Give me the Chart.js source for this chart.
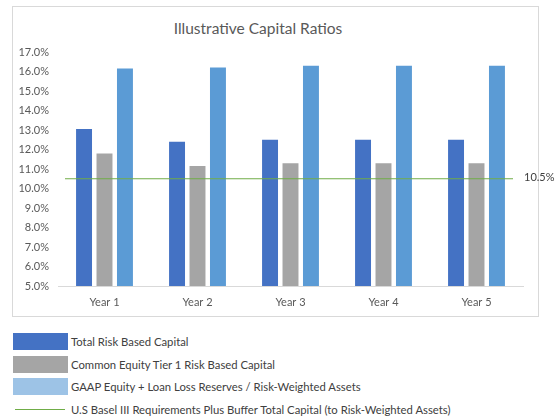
<!DOCTYPE html>
<html>
<head>
<meta charset="utf-8">
<script src="https://cdn.jsdelivr.net/npm/chart.js@4"></script>
<style>
  html, body { margin:0; padding:0; background:#fff; }
  body { width:555px; height:419px; position:relative; overflow:hidden; font-family: Lato, "Open Sans", sans-serif; }
  #frame { position:absolute; left:12px; top:6px; width:525px; height:309px; border:1px solid #d9d9d9; }
  #wrap { position:absolute; left:0; top:0; width:555px; height:316px; }
  #title { position:absolute; left:0; width:516px; top:19px; text-align:center; font-size:15.5px; color:#595959; }
  .leg { position:absolute; left:13px; height:17px; }
  .box { position:absolute; left:0; top:0; width:55px; height:17px; }
  .ln { position:absolute; left:2px; top:8px; width:50px; height:1px; background:#70ad47; }
  .txt { position:absolute; left:58px; top:0; line-height:17px; font-size:11.3px; color:#404040; white-space:nowrap; }
</style>
</head>
<body>
<div id="frame"></div>
<div id="title">Illustrative Capital Ratios</div>
<div id="wrap"><canvas id="c" width="555" height="316"></canvas></div>
<div id="legend"></div>
<script>
const categories = ["Year 1", "Year 2", "Year 3", "Year 4", "Year 5"];
const totalRiskBased = [13.05, 12.4, 12.5, 12.5, 12.5];
const commonEquityTier1 = [11.8, 11.15, 11.3, 11.3, 11.3];
const gaapEquity = [16.15, 16.2, 16.3, 16.3, 16.3];
const baselRequirement = [10.5, 10.5, 10.5, 10.5, 10.5];
const seriesNames = [
  "Total Risk Based Capital",
  "Common Equity Tier 1 Risk Based Capital",
  "GAAP Equity + Loan Loss Reserves / Risk-Weighted Assets",
  "U.S Basel III Requirements Plus Buffer Total Capital (to Risk-Weighted Assets)"
];
const yMin = 5, yMax = 17, yStep = 1;

// Requirement line: drawn through the library's y scale across the plot width
const requirementLine = {
  id: 'requirementLine',
  afterDatasetsDraw(chart) {
    const y = chart.scales.y;
    const area = chart.chartArea;
    const ctx = chart.ctx;
    const n = baselRequirement.length;
    const x0 = area.left + 7, x1 = area.right - 10;
    ctx.save();
    ctx.strokeStyle = '#70ad47';
    ctx.lineWidth = 1.2;
    ctx.beginPath();
    baselRequirement.forEach((v, i) => {
      const px = x0 + (x1 - x0) * i / (n - 1);
      const py = y.getPixelForValue(v);
      if (i === 0) ctx.moveTo(px, py); else ctx.lineTo(px, py);
    });
    ctx.stroke();
    ctx.font = '11px Lato, "Open Sans", sans-serif';
    ctx.fillStyle = '#404040';
    ctx.textBaseline = 'middle';
    ctx.fillText(baselRequirement[n - 1].toFixed(1) + '%', area.right + 1, y.getPixelForValue(baselRequirement[n - 1]) - 1);
    ctx.restore();
  }
};

const barOpts = { categoryPercentage: 0.66, barPercentage: 0.78 };

new Chart(document.getElementById('c'), {
  type: 'bar',
  data: {
    labels: categories,
    datasets: [
      Object.assign({ label: seriesNames[0], data: totalRiskBased, backgroundColor: '#4472c4' }, barOpts),
      Object.assign({ label: seriesNames[1], data: commonEquityTier1, backgroundColor: '#a5a5a5' }, barOpts),
      Object.assign({ label: seriesNames[2], data: gaapEquity, backgroundColor: '#5b9bd5' }, barOpts)
    ]
  },
  options: {
    responsive: false,
    animation: false,
    layout: { padding: { top: 52, right: 32, left: 0, bottom: 0 } },
    plugins: { legend: { display: false }, tooltip: { enabled: false }, title: { display: false } },
    scales: {
      x: {
        grid: { display: false, drawTicks: false },
        border: { display: true, color: '#d9d9d9' },
        ticks: { color: '#595959', font: { size: 11, family: 'Lato, "Open Sans", sans-serif' }, padding: 10 },
        afterFit(s) { s.height = 30; }
      },
      y: {
        min: yMin, max: yMax,
        grid: { display: false, drawTicks: false },
        border: { display: false },
        ticks: { stepSize: yStep, color: '#595959', font: { size: 11, family: 'Lato, "Open Sans", sans-serif' }, padding: 9,
          callback: v => Number(v).toFixed(1) + '%' },
        afterFit(s) { s.width = 58; }
      }
    }
  },
  plugins: [requirementLine]
});

const legendColors = ['#4472c4', '#a5a5a5', '#9dc3e6'];
const legendTops = [333, 356, 378, 401];
const legend = document.getElementById('legend');
seriesNames.forEach((name, i) => {
  const d = document.createElement('div');
  d.className = 'leg';
  d.style.top = legendTops[i] + 'px';
  const mark = document.createElement('div');
  if (i < 3) { mark.className = 'box'; mark.style.background = legendColors[i]; }
  else { mark.className = 'ln'; }
  const t = document.createElement('div');
  t.className = 'txt';
  t.textContent = name;
  d.appendChild(mark); d.appendChild(t);
  legend.appendChild(d);
});
</script>
</body>
</html>
